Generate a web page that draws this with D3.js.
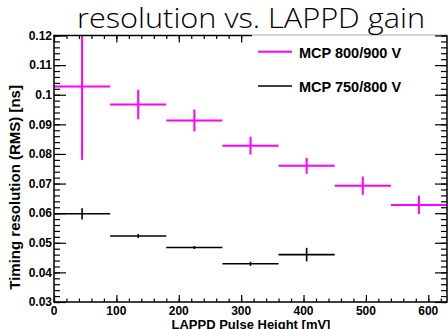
<!DOCTYPE html>
<html>
<head>
<meta charset="utf-8">
<script src="https://cdn.jsdelivr.net/npm/d3@7"></script>
<style>
  html, body { margin: 0; padding: 0; background: #fff; }
  svg { display: block; }
  .lab { font-family: "Liberation Sans", Arial, sans-serif; font-weight: bold; }
</style>
</head>
<body>
<div id="chart"></div>
<script>
// bins of 90 mV, value = RMS timing resolution [ns]
const binCenters = [45, 135, 225, 315, 405, 495, 585];
const binHalfWidth = 45;

const high = { name: 'MCP 800/900 V', color: '#ff00ff',
  values: [0.1028, 0.0967, 0.0913, 0.0828, 0.0760, 0.0693, 0.0628],
  errors: [0.0248, 0.0050, 0.0037, 0.0030, 0.0027, 0.0031, 0.0031] };
const low = { name: 'MCP 750/800 V', color: '#000',
  values: [0.0598, 0.0523, 0.0484, 0.0429, 0.0460],
  errors: [0.0019, 0.0007, 0.0005, 0.0007, 0.0023] };

const xMajor = d3.range(0, 601, 100);
const xMinor = d3.range(0, 631, 20);
const yMajor = d3.range(0.03, 0.1201, 0.01);
const yMinor = d3.range(0.03, 0.1201, 0.002);

const W = 448, H = 329;
const frameL = 54, frameR = 447, frameT = 35.5, frameB = 302;

const svg = d3.select('#chart').append('svg')
  .attr('width', W)
  .attr('height', H);

const x = d3.scaleLinear().domain([0, 630]).range([frameL, frameR]);
const y = d3.scaleLinear().domain([0.03, 0.12]).range([frameB, frameT]);

function tickAxis(axis, scale, values, size) {
  return axis(scale).tickValues(values).tickSizeInner(size).tickSizeOuter(0).tickFormat('');
}

function styleAxis(g) {
  g.select('.domain').remove();
  g.selectAll('line').attr('stroke', '#000').attr('stroke-width', 1.2);
}

// bottom axis (ticks point up, into the frame)
svg.append('g').attr('transform', `translate(0,${frameB})`)
  .call(tickAxis(d3.axisTop, x, xMinor, 3.5)).call(styleAxis);
svg.append('g').attr('transform', `translate(0,${frameB})`)
  .call(tickAxis(d3.axisTop, x, xMajor, 7)).call(styleAxis);
svg.append('g').selectAll('text').data(xMajor).join('text')
  .attr('class', 'lab').attr('font-size', 12).attr('text-anchor', 'middle')
  .attr('x', d => x(d)).attr('y', 315).text(d => d);

// top axis
svg.append('g').attr('transform', `translate(0,${frameT})`)
  .call(tickAxis(d3.axisBottom, x, xMinor, 3.5)).call(styleAxis);
svg.append('g').attr('transform', `translate(0,${frameT})`)
  .call(tickAxis(d3.axisBottom, x, xMajor, 7)).call(styleAxis);

// left axis
svg.append('g').attr('transform', `translate(${frameL},0)`)
  .call(tickAxis(d3.axisRight, y, yMinor, 6)).call(styleAxis);
svg.append('g').attr('transform', `translate(${frameL},0)`)
  .call(tickAxis(d3.axisRight, y, yMajor, 12)).call(styleAxis);
svg.append('g').selectAll('text').data(yMajor).join('text')
  .attr('class', 'lab').attr('font-size', 12).attr('text-anchor', 'end')
  .attr('x', 52).attr('y', d => y(d) + 4.3).text(d => +d.toFixed(2));

// data: horizontal bin width + vertical error, ROOT style
function drawSeries(s, width) {
  const g = svg.append('g').attr('stroke', s.color).attr('stroke-width', width);
  const pts = s.values.map((v, i) => ({ c: binCenters[i], v, e: s.errors[i] }));
  g.selectAll('line.h').data(pts).join('line').attr('class', 'h')
    .attr('x1', d => x(d.c - binHalfWidth)).attr('x2', d => x(d.c + binHalfWidth))
    .attr('y1', d => y(d.v)).attr('y2', d => y(d.v));
  g.selectAll('line.v').data(pts).join('line').attr('class', 'v')
    .attr('x1', d => x(d.c)).attr('x2', d => x(d.c))
    .attr('y1', d => y(Math.min(d.v + d.e, 0.12))).attr('y2', d => y(d.v - d.e));
}
drawSeries(high, 2);
drawSeries(low, 1.6);

// legend
svg.append('rect').attr('x', 252).attr('y', 34).attr('width', 196).attr('height', 72).attr('fill', '#fff');
svg.append('line').attr('x1', 252).attr('x2', 448).attr('y1', 35).attr('y2', 35)
  .attr('stroke', '#aaa').attr('stroke-width', 1);
const legend = svg.append('g').selectAll('g').data([high, low]).join('g')
  .attr('transform', (d, i) => `translate(0,${i === 0 ? 51.7 : 86})`);
legend.append('line').attr('x1', 258).attr('x2', 292).attr('y1', 0).attr('y2', 0)
  .attr('stroke', d => d.color).attr('stroke-width', (d, i) => i === 0 ? 2 : 1.6);
legend.append('text').attr('class', 'lab').attr('font-size', 14.5)
  .attr('x', 299).attr('y', 6).text(d => d.name);

// right axis
svg.append('g').attr('transform', `translate(${frameR},0)`)
  .call(tickAxis(d3.axisLeft, y, yMinor, 6)).call(styleAxis);
svg.append('g').attr('transform', `translate(${frameR},0)`)
  .call(tickAxis(d3.axisLeft, y, yMajor, 12)).call(styleAxis);

// frame
svg.append('path')
  .attr('d', `M${frameR},${frameT}V${frameB}H${frameL}V${frameT}H252`)
  .attr('fill', 'none').attr('stroke', '#000').attr('stroke-width', 1.5);

// titles
svg.append('text')
  .attr('x', 251).attr('y', 28.3).attr('text-anchor', 'middle')
  .attr('font-family', '"Open Sans", "DejaVu Sans", sans-serif').attr('font-weight', 300)
  .attr('font-size', 28).attr('textLength', 348).attr('lengthAdjust', 'spacingAndGlyphs')
  .text('resolution vs. LAPPD gain');

svg.append('text').attr('class', 'lab').attr('font-size', 13)
  .attr('x', 251).attr('y', 328.5).attr('text-anchor', 'middle')
  .text('LAPPD Pulse Height [mV]');

svg.append('text').attr('class', 'lab').attr('font-size', 15)
  .attr('text-anchor', 'middle')
  .attr('transform', 'translate(20,187.4) rotate(-90)')
  .text('Timing resolution (RMS) [ns]');
</script>
</body>
</html>
